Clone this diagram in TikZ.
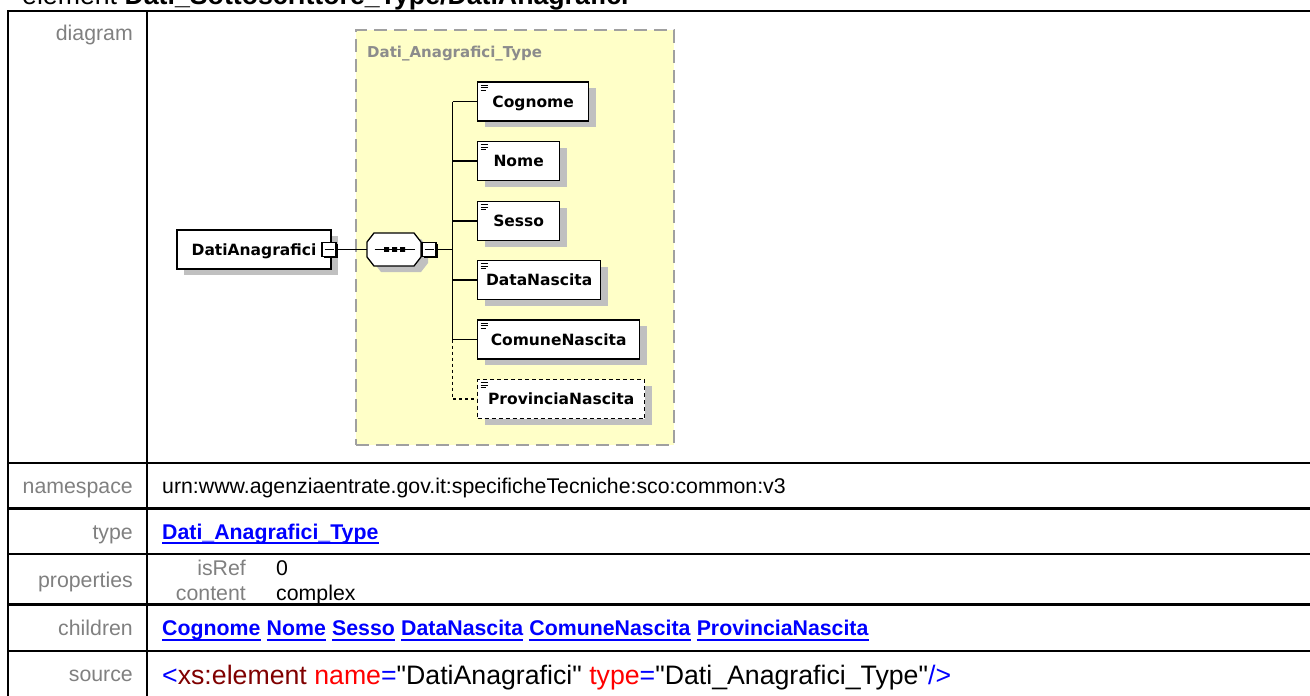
\documentclass[tikz,border=0pt]{standalone}
\usepackage{fontspec}
\setmainfont{Liberation Sans}
\newfontfamily\srcfont{Liberation Sans}[Ligatures=TeXOff]
\newfontfamily\djv{DejaVu Sans}
\usetikzlibrary{shadows}
\definecolor{typefill}{RGB}{255,255,200}
\definecolor{typeborder}{RGB}{160,160,160}
\definecolor{shadowgray}{RGB}{192,192,192}
\definecolor{labelgray}{RGB}{128,128,128}
\definecolor{linkblue}{RGB}{0,0,255}
\definecolor{xmlred}{RGB}{255,0,0}
\definecolor{xmldark}{RGB}{128,0,0}
\tikzset{
  tabline/.style={line width=2.5pt},
  rowlabel/.style={anchor=base east, inner sep=0pt, text=labelgray, font=\fontsize{21.3}{24}\selectfont},
  rowvalue/.style={anchor=base west, inner sep=0pt, font=\fontsize{21.3}{24}\selectfont},
  linktext/.style={anchor=base west, inner sep=0pt, text=linkblue, font=\fontsize{21.3}{24}\selectfont\bfseries},
  linkline/.style={draw=linkblue, line width=2pt},
  boxshadow/.style={drop shadow={shadow xshift=7pt, shadow yshift=-6pt, fill=shadowgray, opacity=1}},
  elembox/.style={draw, line width=1.3pt, fill=white, minimum height=39pt, inner sep=0pt,
    text height=11.3pt, text depth=0pt, font=\djv\bfseries\fontsize{15.5}{18}\selectfont, boxshadow},
  elemicon/.style={path picture={\draw[solid,line width=0.9pt]
      ([xshift=3pt,yshift=-3.2pt]path picture bounding box.north west) -- ++(7pt,0pt)
      ([xshift=3pt,yshift=-5.6pt]path picture bounding box.north west) -- ++(7pt,0pt)
      ([xshift=3pt,yshift=-8pt]path picture bounding box.north west) -- ++(5pt,0pt);}},
  childbox/.style={elembox, anchor=west, elemicon},
  togglebtn/.style={draw, line width=1.2pt, fill=white, minimum size=14pt, inner sep=0pt,
    drop shadow={shadow xshift=1.8pt, shadow yshift=-1.8pt, fill=black, opacity=1},
    path picture={\draw[line width=1pt] ([xshift=2.5pt]path picture bounding box.west) -- ([xshift=-2.5pt]path picture bounding box.east);}},
  conn/.style={line width=1.3pt},
}
\begin{document}
\begin{tikzpicture}[x=1pt,y=-1pt]
\useasboundingbox (0,0) rectangle (1310,696);
\clip (0,0) rectangle (1310,696);
\fill[white] (0,0) rectangle (1310,696);

% title (cut off at top)
\node[anchor=base west, inner sep=0pt, font=\fontsize{26.7}{30}\selectfont] (title) at (22,5)
  {element \textbf{Dati\_Sottoscrittore\_Type/DatiAnagrafici}};

% table grid
\draw[tabline] (1320,11) -- (8,11) -- (8,700);
\draw[tabline] (147,11) -- (147,700);
\foreach \yy in {463,508.5,554,604.5,651} \draw[tabline] (8,\yy) -- (1320,\yy);

% row labels
\node[rowlabel] (l1) at (133,40.5) {diagram};
\node[rowlabel] (l2) at (133,493.5) {namespace};
\node[rowlabel] (l3) at (133,539) {type};
\node[rowlabel] (l4) at (133,587) {properties};
\node[rowlabel] (l5) at (133,635.5) {children};
\node[rowlabel] (l6) at (133,681) {source};

% values
\node[rowvalue] (ns) at (162,493.5) {urn:www.agenziaentrate.gov.it:specificheTecniche:sco:common:v3};
\node[linktext] (tl) at (162,539) {Dati\_Anagrafici\_Type};
\draw[linkline] ([yshift=-4pt]tl.base west) -- ([yshift=-4pt]tl.base east);
\node[rowlabel] (p1) at (246,575) {isRef};
\node[rowvalue] (p1v) at (276,575) {0};
\node[rowlabel] (p2) at (246,600) {content};
\node[rowvalue] (p2v) at (276,600) {complex};

\node[linktext] (c1) at (162,635.5) {Cognome};
\node[linktext] (c2) at ([xshift=5.9pt]c1.base east) {Nome};
\node[linktext] (c3) at ([xshift=5.9pt]c2.base east) {Sesso};
\node[linktext] (c4) at ([xshift=5.9pt]c3.base east) {DataNascita};
\node[linktext] (c5) at ([xshift=5.9pt]c4.base east) {ComuneNascita};
\node[linktext] (c6) at ([xshift=5.9pt]c5.base east) {ProvinciaNascita};
\foreach \c in {c1,c2,c3,c4,c5,c6}
  \draw[linkline] ([yshift=-4pt]\c.base west) -- ([yshift=-4pt]\c.base east);

\node[rowvalue, font=\srcfont\fontsize{26.7}{30}\selectfont] (src) at (162,684)
  {{\color{linkblue}<}{\color{xmldark}xs:element} {\color{xmlred}name}{\color{linkblue}=}"DatiAnagrafici" {\color{xmlred}type}{\color{linkblue}=}"Dati\_Anagrafici\_Type"{\color{linkblue}/>}};

% ---- diagram ----
\node[draw=typeborder, fill=typefill, dash pattern=on 13pt off 7pt, line width=1.5pt,
  minimum width=318pt, minimum height=415pt, anchor=north west, inner sep=0pt] (typebox) at (355,29) {};
\node[anchor=base west, inner sep=0pt, text=black!45, font=\djv\bfseries\fontsize{15}{18}\selectfont] (typename) at (367,57) {Dati\_Anagrafici\_Type};

\node[elembox, minimum width=154pt] (root) at (254,249.5) {DatiAnagrafici};
\node[togglebtn] (rbtn) at (329,249.5) {};

% sequence compositor (octagon)
\coordinate (seqin) at (367,249.5);
\fill[shadowgray, shift={(7,6)}] (374,233) -- (414,233) -- (421,242) -- (421,257) -- (414,266) -- (374,266) -- (367,257) -- (367,242) -- cycle;
\draw[line width=1.3pt, fill=white] (374,233) -- (414,233) -- (421,242) -- (421,257) -- (414,266) -- (374,266) -- (367,257) -- (367,242) -- cycle;
\draw[conn] (374.5,249.5) -- (414.5,249.5);
\fill (384,247.2) rectangle (389,251.8) (392,247.2) rectangle (397,251.8) (400,247.2) rectangle (405,251.8);
\node[togglebtn] (sbtn) at (429,249.5) {};

\draw[conn] (rbtn.east) -- (seqin);
\coordinate (tj) at (452.5,249.5);
\draw[conn] (sbtn.east) -- (tj);

% children
\node[childbox, minimum width=111pt] (cog) at (477,101.5) {Cognome};
\node[childbox, minimum width=82pt] (nom) at (477,161) {Nome};
\node[childbox, minimum width=82pt] (ses) at (477,221) {Sesso};
\node[childbox, minimum width=123pt] (dat) at (477,280) {DataNascita};
\node[childbox, minimum width=162pt] (com) at (477,339.5) {ComuneNascita};
\node[childbox, minimum width=167pt, dash pattern=on 4pt off 3pt] (prv) at (477,399) {ProvinciaNascita};

\draw[conn] (tj |- cog.west) -- (tj |- com.west);
\foreach \c in {cog,nom,ses,dat,com} \draw[conn] (tj |- \c.west) -- (\c.west);
\draw[conn, dash pattern=on 3pt off 3pt] (tj |- com.west) -- (tj |- prv.west) -- (prv.west);
\end{tikzpicture}
\end{document}
